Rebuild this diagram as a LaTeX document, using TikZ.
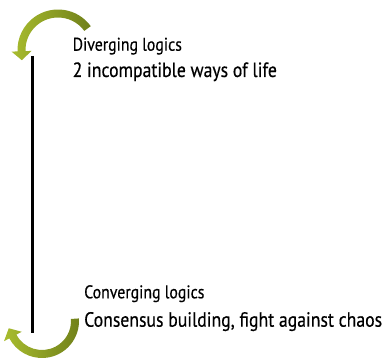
\documentclass[tikz,border=0pt]{standalone}
\usepackage{fontspec}
\setmainfont{PT Sans}[FakeStretch=0.86,FakeBold=0.4]
\usetikzlibrary{calc}
\definecolor{cycleLight}{RGB}{168,188,46}
\definecolor{cycleDark}{RGB}{112,128,26}
\tikzset{
  logic cycle arrow/.style={left color=cycleLight, right color=cycleDark},
  logic axis/.style={draw=black, line width=2.2pt},
  logic name/.style={
    anchor=base west,
    inner sep=0pt,
    text=black,
    font=\fontsize{18.4}{21}\selectfont
  },
  logic text/.style={
    anchor=base west,
    inner sep=0pt,
    text=black,
    font=\fontsize{20.6}{24}\selectfont
  }
}
% #2 centre, #3 start angle, #4 head angle, #5 outer radius, #6 inner radius, #7 tip
\newcommand{\logicCycleArrow}[7][]{%
  \shade[logic cycle arrow,shift={(#2)},#1]
    (#3:#5) arc[start angle=#3,end angle=#4,radius=#5]
    -- ({#4}:{#5+6}) -- (#7) -- ({#4}:{#6-6})
    -- (#4:#6) arc[start angle=#4,end angle=#3,radius=#6] -- cycle;%
}

\begin{document}
\begin{tikzpicture}[x=1pt,y=1pt]
  \useasboundingbox (0,0) rectangle (387,358);

  \logicCycleArrow{58,308}{36}{182}{40.5}{32.5}{195.8:37.6}
  \logicCycleArrow{42,37}{4}{-152}{37}{29}{-167.7:34}

  \coordinate (axis top) at (32.5,302);
  \coordinate (axis bottom) at (32.5,25);
  \draw[logic axis] (axis top) -- (axis bottom);

  \node[logic name] (diverging name) at (72.5,307.3) {Diverging logics};
  \node[logic text] (diverging text) at (72.5,281) {2 incompatible ways of life};
  \node[logic name] (converging name) at (84,59.7) {Converging logics};
  \node[logic text] (converging text) at (84,31.3) {Consensus building, fight against chaos};
\end{tikzpicture}
\end{document}
